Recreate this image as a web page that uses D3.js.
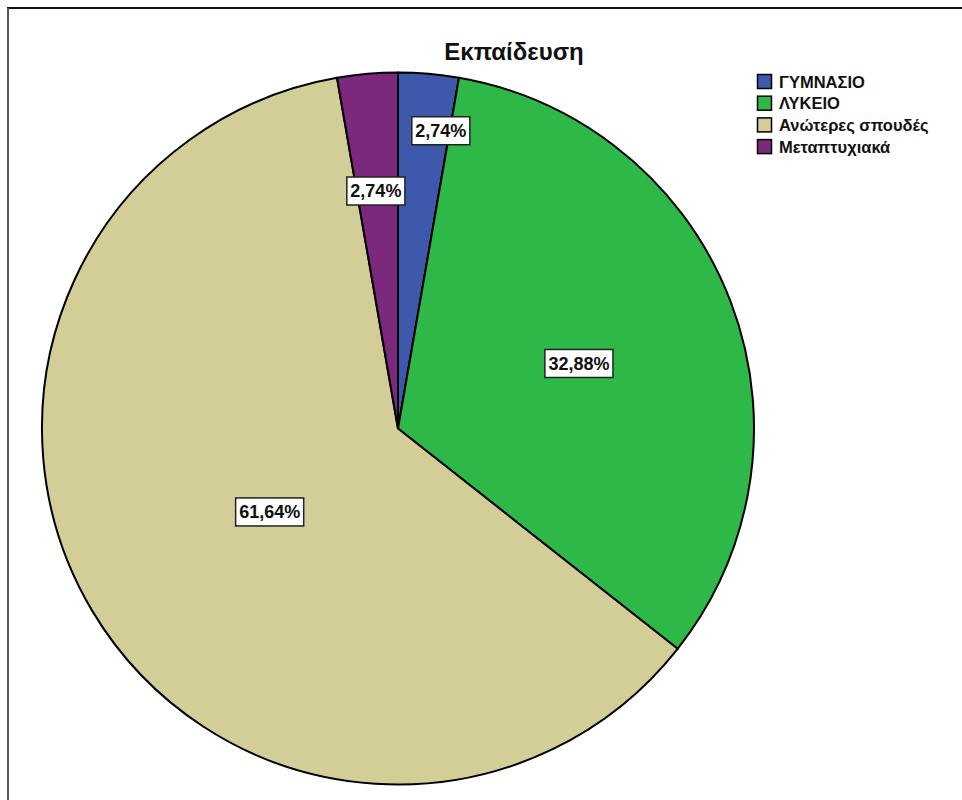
<!DOCTYPE html>
<html>
<head>
<meta charset="utf-8">
<script src="https://cdn.jsdelivr.net/npm/d3@7"></script>
<style>
  html, body { margin: 0; padding: 0; background: #fff; }
  svg { display: block; }
</style>
</head>
<body>
<svg id="chart" width="962" height="800"></svg>
<script>
// Education level of respondents (percent of total)
const categories = ["ΓΥΜΝΑΣΙΟ", "ΛΥΚΕΙΟ", "Ανώτερες σπουδές", "Μεταπτυχιακά"];
const percents = [2.74, 32.88, 61.64, 2.74];
const colors = ["#3e58ac", "#2eb848", "#d3ce97", "#7c287d"];
const titleText = "Εκπαίδευση";

// Label placement inside each slice: fraction along the slice's sweep, fraction of radius
const labelSweep = [0.83, 0.51, 0.49, 0.46];
const labelRadius = [0.845, 0.54, 0.43, 0.67];

const svg = d3.select("#chart");
const W = 962, H = 800;
const cx = 398, cy = 428.5, R = 356;

// frame lines (top and left)
svg.append("line").attr("x1", 7).attr("x2", W).attr("y1", 8).attr("y2", 8)
  .attr("stroke", "#111").attr("stroke-width", 2);
svg.append("line").attr("x1", 8).attr("x2", 8).attr("y1", 8).attr("y2", H)
  .attr("stroke", "#555").attr("stroke-width", 2);

// title
svg.append("text")
  .attr("x", 514).attr("y", 60)
  .attr("text-anchor", "middle")
  .attr("font-family", "Liberation Sans, Arial, sans-serif")
  .attr("font-weight", "bold")
  .attr("font-size", 24)
  .attr("fill", "#111")
  .text(titleText);

const data = categories.map((c, i) => ({ name: c, value: percents[i], color: colors[i], i }));

const pie = d3.pie().value(d => d.value).sort(null).startAngle(0).endAngle(2 * Math.PI);
const arcs = pie(data);
const arc = d3.arc().innerRadius(0).outerRadius(R);

const g = svg.append("g").attr("transform", `translate(${cx},${cy})`);

g.selectAll("path.slice")
  .data(arcs)
  .join("path")
  .attr("class", "slice")
  .attr("d", arc)
  .attr("fill", d => d.data.color)
  .attr("stroke", "#000")
  .attr("stroke-width", 2)
  .attr("stroke-linejoin", "round");

// value labels in white boxes
const fmt = v => d3.format(".2f")(v).replace(".", ",") + "%";
const lab = g.selectAll("g.lab")
  .data(arcs)
  .join("g")
  .attr("class", "lab")
  .attr("transform", d => {
    const i = d.data.i;
    const a = d.startAngle + (d.endAngle - d.startAngle) * labelSweep[i];
    const r = R * labelRadius[i];
    return `translate(${r * Math.sin(a)},${-r * Math.cos(a)})`;
  });

lab.append("text")
  .attr("text-anchor", "middle")
  .attr("dy", "0.36em")
  .attr("font-family", "Liberation Sans, Arial, sans-serif")
  .attr("font-weight", "bold")
  .attr("font-size", 18)
  .attr("fill", "#111")
  .text(d => fmt(d.data.value));

lab.each(function () {
  const t = d3.select(this).select("text");
  const bb = t.node().getBBox();
  d3.select(this).insert("rect", "text")
    .attr("x", bb.x - 3.5).attr("y", -14)
    .attr("width", bb.width + 7).attr("height", 28)
    .attr("fill", "#fff")
    .attr("stroke", "#222")
    .attr("stroke-width", 1.5);
});

// legend
const legend = svg.append("g").attr("transform", "translate(757,74)");
const rowH = 21.7;
const item = legend.selectAll("g.item")
  .data(data)
  .join("g")
  .attr("class", "item")
  .attr("transform", (d, i) => `translate(0,${i * rowH})`);
item.append("rect")
  .attr("x", 0.5).attr("y", 0.5)
  .attr("width", 14).attr("height", 14)
  .attr("fill", d => d.color)
  .attr("stroke", "#000")
  .attr("stroke-width", 1.5);
item.append("text")
  .attr("x", 22).attr("y", 13.5)
  .attr("font-family", "Liberation Sans, Arial, sans-serif")
  .attr("font-weight", "bold")
  .attr("font-size", 16.5)
  .attr("fill", "#111")
  .text(d => d.name);
</script>
</body>
</html>
